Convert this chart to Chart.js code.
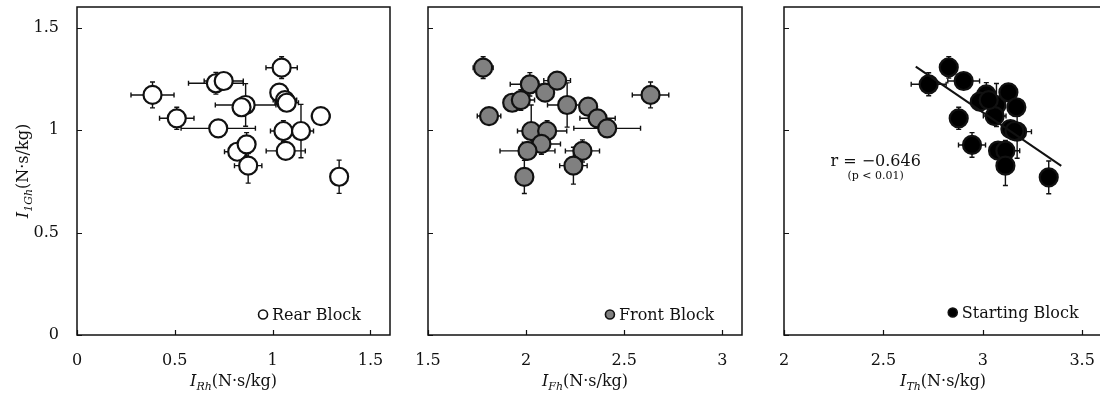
<!DOCTYPE html>
<html>
<head>
<meta charset="utf-8">
<script src="https://cdn.jsdelivr.net/npm/chart.js@4.4.0/dist/chart.umd.min.js"></script>
<style>
  html, body { margin: 0; padding: 0; background: #fff; overflow: hidden; }
  #wrap { position: relative; width: 1100px; height: 403px; overflow: hidden; }
  canvas { position: absolute; top: 0; }
</style>
</head>
<body>
<div id="wrap">
  <canvas id="rear" width="395" height="403" style="left:0px"></canvas>
  <canvas id="front" width="350" height="403" style="left:395px"></canvas>
  <canvas id="start" width="360" height="403" style="left:745px"></canvas>
</div>
<script>
// Impulse per body mass vs. block impulse, three panels

const Y_TICKS = [0, 0.5, 1, 1.5];
const REAR_TICKS = [0, 0.5, 1, 1.5];
const FRONT_TICKS = [1.5, 2, 2.5, 3];
const START_TICKS = [2, 2.5, 3, 3.5];

// Rear block
const REAR_X = [0.386, 0.510, 0.710, 0.750, 0.862, 0.841, 0.722, 0.819, 0.867, 0.875, 1.046, 1.034, 1.063, 1.072, 1.055, 1.067, 1.145, 1.246, 1.340];
const REAR_Y = [1.171, 1.057, 1.228, 1.239, 1.122, 1.111, 1.008, 0.894, 0.930, 0.826, 1.304, 1.182, 1.146, 1.133, 0.995, 0.898, 0.995, 1.068, 0.772];
const REAR_XERR = [0.110, 0.088, 0.140, 0.100, 0.155, 0.030, 0.190, 0.065, 0.040, 0.070, 0.080, 0.040, 0.060, 0.060, 0.066, 0.100, 0.064, 0.047, 0.030];
const REAR_YERR = [0.063, 0.054, 0.053, 0.030, 0.104, 0.030, 0.010, 0.030, 0.057, 0.085, 0.053, 0.044, 0.030, 0.030, 0.050, 0.030, 0.130, 0.020, 0.081];

// Front block
const FRONT_X = [1.781, 1.811, 1.929, 1.973, 2.019, 2.097, 2.158, 2.209, 2.316, 2.364, 2.413, 2.026, 2.107, 2.078, 2.007, 2.287, 2.241, 1.991, 2.634];
const FRONT_Y = [1.304, 1.068, 1.133, 1.146, 1.223, 1.182, 1.241, 1.122, 1.114, 1.057, 1.008, 0.995, 0.995, 0.932, 0.898, 0.898, 0.826, 0.771, 1.171];
const FRONT_XERR = [0.051, 0.060, 0.030, 0.070, 0.100, 0.030, 0.068, 0.100, 0.030, 0.090, 0.170, 0.070, 0.100, 0.097, 0.140, 0.087, 0.070, 0.030, 0.093];
const FRONT_YERR = [0.053, 0.020, 0.030, 0.050, 0.057, 0.030, 0.030, 0.108, 0.030, 0.030, 0.020, 0.127, 0.050, 0.050, 0.030, 0.054, 0.090, 0.081, 0.063];

// Starting block (sum)
const START_X = [2.728, 2.829, 2.904, 3.018, 2.985, 3.069, 3.060, 3.129, 3.169, 2.879, 3.139, 3.173, 2.946, 3.077, 3.114, 3.114, 3.332, 3.030, 3.160];
const START_Y = [1.223, 1.306, 1.239, 1.174, 1.138, 1.122, 1.068, 1.184, 1.111, 1.057, 1.005, 0.992, 0.927, 0.899, 0.899, 0.826, 0.769, 1.146, 0.995];
const START_XERR = [0.088, 0.030, 0.080, 0.040, 0.030, 0.040, 0.057, 0.030, 0.040, 0.030, 0.040, 0.072, 0.068, 0.040, 0.072, 0.030, 0.030, 0.030, 0.030];
const START_YERR = [0.056, 0.052, 0.030, 0.057, 0.030, 0.105, 0.030, 0.040, 0.040, 0.054, 0.030, 0.130, 0.060, 0.030, 0.050, 0.097, 0.080, 0.030, 0.030];

// Regression line endpoints
const FIT_X = [2.663, 3.395];
const FIT_Y = [1.309, 0.825];

const FONT = '"DejaVu Serif", "Liberation Serif", serif';
const INK = '#111';
const CAP = 2.5;
const TICK_LEN = 5;

function points(xs, ys) {
  return xs.map((x, i) => ({ x: x, y: ys[i] }));
}

function drawTitle(ctx, main, sub, rest, x, y) {
  ctx.font = 'italic 16px ' + FONT;
  const w1 = ctx.measureText(main).width;
  ctx.font = 'italic 11px ' + FONT;
  const w2 = ctx.measureText(sub).width;
  ctx.font = '16px ' + FONT;
  const w3 = ctx.measureText(rest).width;
  let cx = x - (w1 + w2 + w3) / 2;
  ctx.textAlign = 'left';
  ctx.textBaseline = 'alphabetic';
  ctx.font = 'italic 16px ' + FONT;
  ctx.fillText(main, cx, y);
  cx += w1;
  ctx.font = 'italic 11px ' + FONT;
  ctx.fillText(sub, cx, y + 4);
  cx += w2;
  ctx.font = '16px ' + FONT;
  ctx.fillText(rest, cx, y);
}

// no automatic padding for edge labels: plot area is fixed by hand
function noPad(s) {
  s.paddingLeft = 0;
  s.paddingRight = 0;
  s.paddingTop = 0;
  s.paddingBottom = 0;
}

const panelPlugin = {
  id: 'panel',
  beforeDatasetsDraw(chart) {
    const ctx = chart.ctx;
    const xs = chart.scales.x, ys = chart.scales.y;
    ctx.save();
    ctx.strokeStyle = INK;
    ctx.lineWidth = 1.4;
    chart.data.datasets.forEach(ds => {
      if (!ds.errX) return;
      ds.data.forEach((p, i) => {
        const px = xs.getPixelForValue(p.x);
        const py = ys.getPixelForValue(p.y);
        const x0 = xs.getPixelForValue(p.x - ds.errX[i]);
        const x1 = xs.getPixelForValue(p.x + ds.errX[i]);
        const y0 = ys.getPixelForValue(p.y - ds.errY[i]);
        const y1 = ys.getPixelForValue(p.y + ds.errY[i]);
        ctx.beginPath();
        ctx.moveTo(x0, py); ctx.lineTo(x1, py);
        ctx.moveTo(x0, py - CAP); ctx.lineTo(x0, py + CAP);
        ctx.moveTo(x1, py - CAP); ctx.lineTo(x1, py + CAP);
        ctx.moveTo(px, y0); ctx.lineTo(px, y1);
        ctx.moveTo(px - CAP, y0); ctx.lineTo(px + CAP, y0);
        ctx.moveTo(px - CAP, y1); ctx.lineTo(px + CAP, y1);
        ctx.stroke();
      });
    });
    ctx.restore();
  },
  afterDraw(chart, args, opts) {
    const ctx = chart.ctx;
    const a = chart.chartArea;
    const xs = chart.scales.x, ys = chart.scales.y;
    ctx.save();

    // frame
    ctx.strokeStyle = INK;
    ctx.lineWidth = 1.5;
    ctx.strokeRect(a.left, a.top, a.right - a.left, a.bottom - a.top);

    // inward tick marks
    ctx.lineWidth = 1.2;
    ctx.beginPath();
    opts.xTicks.forEach(v => {
      const px = Math.round(xs.getPixelForValue(v)) + 0.5;
      ctx.moveTo(px, a.bottom); ctx.lineTo(px, a.bottom - TICK_LEN);
    });
    Y_TICKS.forEach(v => {
      const py = Math.round(ys.getPixelForValue(v)) + 0.5;
      ctx.moveTo(a.left, py); ctx.lineTo(a.left + TICK_LEN, py);
    });
    ctx.stroke();

    // legend
    const lx = xs.getPixelForValue(opts.legendAt[0]);
    const ly = ys.getPixelForValue(opts.legendAt[1]);
    ctx.beginPath();
    ctx.arc(lx, ly, 4.5, 0, Math.PI * 2);
    ctx.fillStyle = opts.fill;
    ctx.fill();
    ctx.lineWidth = 1.6;
    ctx.stroke();
    ctx.fillStyle = INK;
    ctx.font = '16px ' + FONT;
    ctx.textAlign = 'left';
    ctx.textBaseline = 'middle';
    ctx.fillText(opts.legend, lx + 9, ly + 1);

    // axis titles
    drawTitle(ctx, 'I', opts.sub, '(N·s/kg)', (a.left + a.right) / 2, 386);
    if (opts.yTitle) {
      ctx.save();
      ctx.translate(28, (a.top + a.bottom) / 2);
      ctx.rotate(-Math.PI / 2);
      drawTitle(ctx, 'I', '1Gh', '(N·s/kg)', 0, 0);
      ctx.restore();
    }

    // correlation note
    if (opts.note) {
      const nx = xs.getPixelForValue(opts.note.at[0]);
      ctx.textAlign = 'center';
      ctx.textBaseline = 'alphabetic';
      ctx.font = '16px ' + FONT;
      ctx.fillText(opts.note.text, nx, ys.getPixelForValue(opts.note.at[1]));
      ctx.font = '11px ' + FONT;
      ctx.fillText(opts.note.sub, nx, ys.getPixelForValue(opts.note.at[2]));
    }
    ctx.restore();
  }
};

function makeChart(id, cfg) {
  const datasets = [];
  if (cfg.fitX) {
    datasets.push({
      type: 'line',
      data: points(cfg.fitX, cfg.fitY),
      borderColor: INK,
      borderWidth: 2,
      pointRadius: 0,
      showLine: true
    });
  }
  datasets.push({
    type: 'scatter',
    data: points(cfg.x, cfg.y),
    errX: cfg.xErr,
    errY: cfg.yErr,
    backgroundColor: cfg.fill,
    borderColor: INK,
    borderWidth: 2.2,
    pointRadius: 9,
    pointHoverRadius: 9
  });

  return new Chart(document.getElementById(id), {
    type: 'scatter',
    data: { datasets: datasets },
    plugins: [panelPlugin],
    options: {
      responsive: false,
      animation: false,
      events: [],
      layout: {
        autoPadding: false,
        padding: { left: 0, right: cfg.padRight, top: 7, bottom: 0 }
      },
      scales: {
        x: {
          type: 'linear',
          min: cfg.xMin,
          max: cfg.xMax,
          afterBuildTicks: s => { s.ticks = cfg.xTicks.map(v => ({ value: v })); },
          afterFit: s => { s.height = 68; noPad(s); },
          grid: { display: false, drawTicks: false },
          border: { display: false },
          ticks: {
            padding: 16,
            color: INK,
            maxRotation: 0,
            font: { family: FONT, size: 16 },
            callback: v => String(v)
          }
        },
        y: {
          type: 'linear',
          min: 0,
          max: 1.6,
          afterBuildTicks: s => { s.ticks = Y_TICKS.map(v => ({ value: v })); },
          afterFit: s => { s.width = cfg.yWidth; noPad(s); },
          grid: { display: false, drawTicks: false },
          border: { display: false },
          ticks: {
            display: cfg.yLabels,
            padding: 18,
            color: INK,
            font: { family: FONT, size: 16 },
            callback: v => String(v)
          }
        }
      },
      plugins: {
        legend: { display: false },
        tooltip: { enabled: false },
        panel: {
          xTicks: cfg.xTicks,
          legend: cfg.legend,
          legendAt: cfg.legendAt,
          fill: cfg.fill,
          sub: cfg.sub,
          yTitle: cfg.yLabels,
          note: cfg.note
        }
      }
    }
  });
}

makeChart('rear', {
  x: REAR_X, y: REAR_Y, xErr: REAR_XERR, yErr: REAR_YERR,
  xMin: 0, xMax: 1.6, xTicks: REAR_TICKS,
  fill: '#ffffff', legend: 'Rear Block', legendAt: [0.951, 0.1], sub: 'Rh',
  yWidth: 77, padRight: 5, yLabels: true
});

makeChart('front', {
  x: FRONT_X, y: FRONT_Y, xErr: FRONT_XERR, yErr: FRONT_YERR,
  xMin: 1.5, xMax: 3.1, xTicks: FRONT_TICKS,
  fill: '#808080', legend: 'Front Block', legendAt: [2.427, 0.1], sub: 'Fh',
  yWidth: 33, padRight: 3, yLabels: false
});

makeChart('start', {
  x: START_X, y: START_Y, xErr: START_XERR, yErr: START_YERR,
  fitX: FIT_X, fitY: FIT_Y,
  xMin: 2, xMax: 3.6, xTicks: START_TICKS,
  fill: '#000000', legend: 'Starting Block', legendAt: [2.849, 0.11], sub: 'Th',
  yWidth: 39, padRight: 3, yLabels: false,
  note: { text: 'r = −0.646', sub: '(p < 0.01)', at: [2.461, 0.824, 0.761] }
});
</script>
</body>
</html>
